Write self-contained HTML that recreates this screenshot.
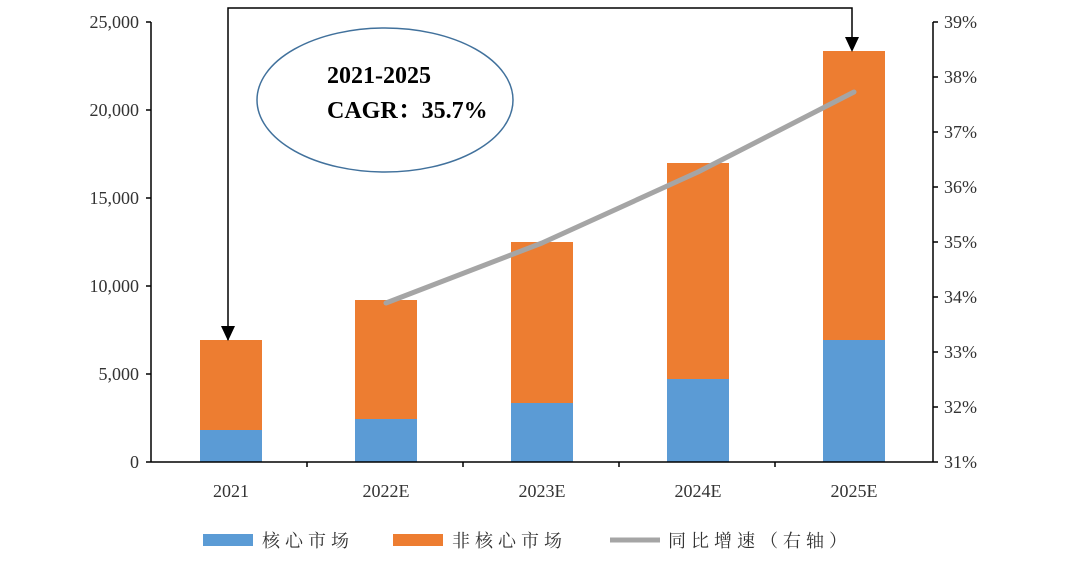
<!DOCTYPE html>
<html><head><meta charset="utf-8"><style>body{margin:0;background:#fff}</style></head><body>
<svg width="1080" height="564" xmlns="http://www.w3.org/2000/svg" font-family="'Liberation Serif','Noto Serif CJK SC',serif">
<rect width="1080" height="564" fill="#fff"/>
<g>
<rect x="200" y="340" width="62" height="90" fill="#ED7D31"/><rect x="200" y="430" width="62" height="32" fill="#5B9BD5"/>
<rect x="355" y="300" width="62" height="119" fill="#ED7D31"/><rect x="355" y="419" width="62" height="43" fill="#5B9BD5"/>
<rect x="511" y="242" width="62" height="161" fill="#ED7D31"/><rect x="511" y="403" width="62" height="59" fill="#5B9BD5"/>
<rect x="667" y="163" width="62" height="216" fill="#ED7D31"/><rect x="667" y="379" width="62" height="83" fill="#5B9BD5"/>
<rect x="823" y="51" width="62" height="289" fill="#ED7D31"/><rect x="823" y="340" width="62" height="122" fill="#5B9BD5"/>
</g>
<polyline points="386,303 542,243 698,172 854,92" fill="none" stroke="#A5A5A5" stroke-width="5" stroke-linecap="round" stroke-linejoin="round"/>
<g stroke="#000" stroke-width="1.5">
<line x1="151" y1="22" x2="151" y2="462"/>
<line x1="933" y1="22" x2="933" y2="462"/>
<line x1="146" y1="462" x2="938" y2="462"/>
<line x1="146" y1="22" x2="151" y2="22"/><line x1="146" y1="110" x2="151" y2="110"/><line x1="146" y1="198" x2="151" y2="198"/><line x1="146" y1="286" x2="151" y2="286"/><line x1="146" y1="374" x2="151" y2="374"/>
<line x1="933" y1="22" x2="938" y2="22"/><line x1="933" y1="77" x2="938" y2="77"/><line x1="933" y1="132" x2="938" y2="132"/><line x1="933" y1="187" x2="938" y2="187"/><line x1="933" y1="242" x2="938" y2="242"/><line x1="933" y1="297" x2="938" y2="297"/><line x1="933" y1="352" x2="938" y2="352"/><line x1="933" y1="407" x2="938" y2="407"/>
<line x1="307" y1="462" x2="307" y2="467"/><line x1="463" y1="462" x2="463" y2="467"/><line x1="619" y1="462" x2="619" y2="467"/><line x1="775" y1="462" x2="775" y2="467"/>
</g>
<g font-size="18" fill="#333" text-anchor="end">
<text x="139" y="28">25,000</text><text x="139" y="116">20,000</text><text x="139" y="204">15,000</text><text x="139" y="292">10,000</text><text x="139" y="380">5,000</text><text x="139" y="468">0</text>
</g>
<g font-size="18" fill="#333">
<text x="944" y="28">39%</text><text x="944" y="83">38%</text><text x="944" y="138">37%</text><text x="944" y="193">36%</text><text x="944" y="248">35%</text><text x="944" y="303">34%</text><text x="944" y="358">33%</text><text x="944" y="413">32%</text><text x="944" y="468">31%</text>
</g>
<g font-size="18" fill="#333" text-anchor="middle">
<text x="231" y="497">2021</text><text x="386" y="497">2022E</text><text x="542" y="497">2023E</text><text x="698" y="497">2024E</text><text x="854" y="497">2025E</text>
</g>
<polyline points="228,340 228,8 852,8 852,50" fill="none" stroke="#000" stroke-width="1.5"/>
<polygon points="221,326 235,326 228,341" fill="#000"/>
<polygon points="845,37 859,37 852,52" fill="#000"/>
<ellipse cx="385" cy="100" rx="128" ry="72" fill="#fff" stroke="#41719C" stroke-width="1.5"/>
<text x="327" y="83" font-size="24" font-weight="bold" fill="#000">2021-2025</text>
<text x="327" y="118" font-size="24" font-weight="bold" fill="#000">CAGR：35.7%</text>
<rect x="203" y="534" width="50" height="12" fill="#5B9BD5"/>
<text x="262" y="547" font-size="18" letter-spacing="5" fill="#333">核心市场</text>
<rect x="393" y="534" width="50" height="12" fill="#ED7D31"/>
<text x="452" y="547" font-size="18" letter-spacing="5" fill="#333">非核心市场</text>
<line x1="610" y1="540" x2="660" y2="540" stroke="#A5A5A5" stroke-width="5"/>
<text x="668" y="547" font-size="18" letter-spacing="5" fill="#333">同比增速（右轴）</text>
</svg>
</body></html>
